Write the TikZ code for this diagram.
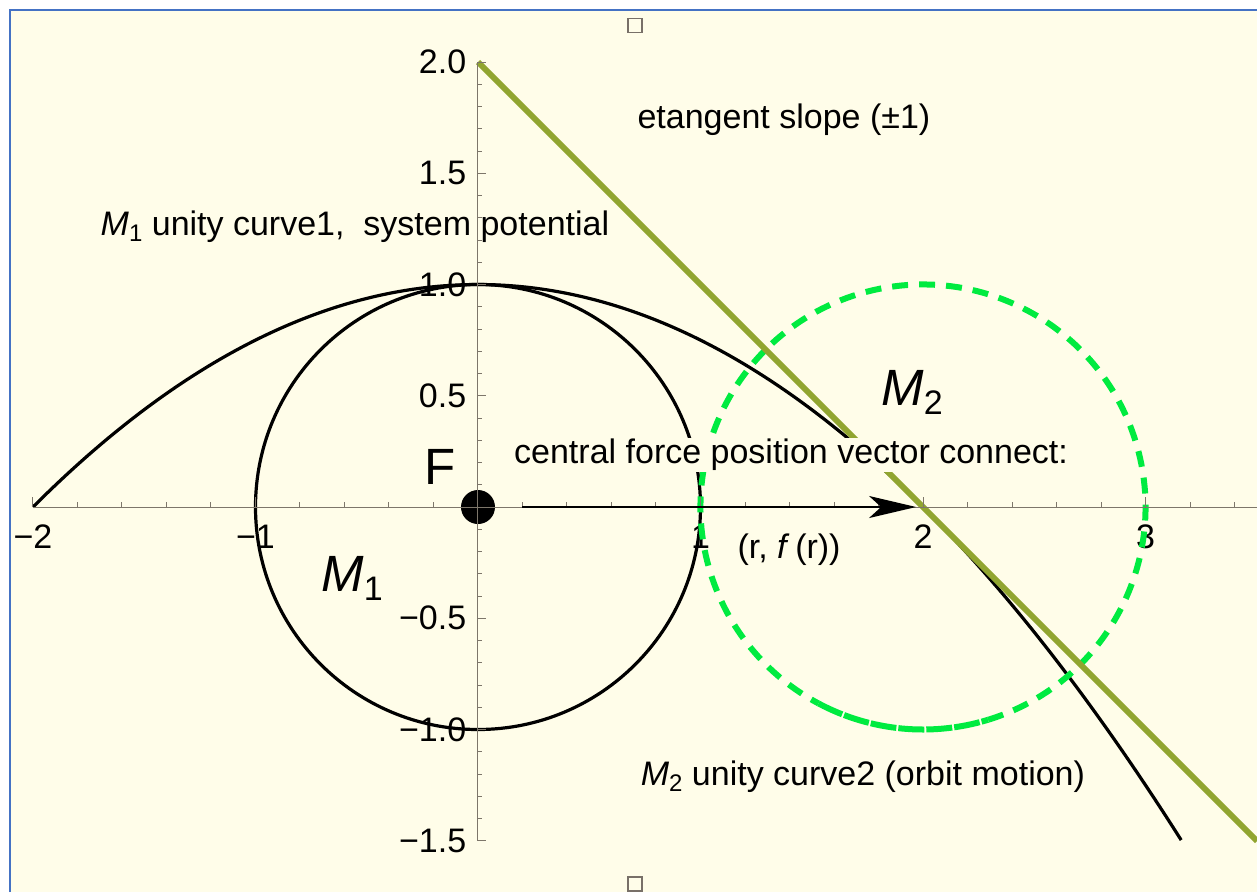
\documentclass[tikz,border=0pt]{standalone}
\usepackage{fontspec}
\setmainfont{Liberation Sans}
\usetikzlibrary{arrows.meta}
\definecolor{bgyellow}{RGB}{255,253,233}
\definecolor{frameblue}{RGB}{68,114,196}
\definecolor{axisgray}{RGB}{125,118,106}
\definecolor{olivegreen}{RGB}{145,165,48}
\definecolor{brightgreen}{RGB}{0,235,64}
\definecolor{handlegray}{RGB}{120,112,104}
\newcommand\Msub[3]{\textit{M}\raisebox{-#3}{\fontsize{#2}{#2}\selectfont #1}}
\begin{document}
\begin{tikzpicture}[x=222.5pt,y=222.5pt,
  txt/.style={font=\fontsize{34}{40}\selectfont, inner sep=1pt},
  bigtxt/.style={font=\fontsize{51}{58}\selectfont, inner sep=1pt},
  ticklab/.style={font=\fontsize{34}{40}\selectfont, inner sep=0pt},
  blackcurve/.style={line width=3.2pt, black},
  axisline/.style={axisgray, line width=1pt},
  greendash/.style={brightgreen, line width=6pt},
  handle/.style={handlegray, line width=1.2pt}
]
\useasboundingbox (-2.1483,-1.7303) rectangle (3.5011,2.2787);
\fill[white] (-2.1483,-1.7303) rectangle (3.5011,2.2787);
\fill[bgyellow] (-2.1034,-1.7303) rectangle (3.5011,2.2337);
\draw[frameblue, line width=2.6pt] (-2.1034,-1.7303) -- (-2.1034,2.2337) -- (3.5011,2.2337);
% resize handles
\draw[handle] (0.6741,2.1325) rectangle (0.7371,2.1955);
\draw[handle] (0.6741,-1.7259) rectangle (0.7371,-1.6629);
% tick labels
\foreach \k/\t in {-2/{−2},-1/{−1},1/1,2/2,3/3}
  \node[ticklab] (xl\k) at (\k,-0.135) {\t};
\foreach \v/\t in {2/{2.0},1.5/{1.5},1/{1.0},0.5/{0.5},-0.5/{−0.5},-1/{−1.0},-1.5/{−1.5}}
  \node[ticklab, anchor=east] (yl\v) at (-0.052,\v) {\t};
% curves
\draw[blackcurve] plot[domain=-2:3.1623, samples=140, smooth] (\x,{1-\x*\x/4});
\draw[blackcurve] (0,0) circle (1);
\draw[greendash, dash pattern=on 16pt off 11pt] (2,0) ++(287:1) arc[start angle=287, end angle=602, radius=1];
\draw[greendash, dash pattern=on 26pt off 2pt] (2,0) ++(242:1) arc[start angle=242, end angle=287, radius=1];
\draw[olivegreen, line width=6pt] (0,2) -- (3.5011,-1.5011);
% labels
\node[txt] (tangent) at (1.375,1.739) {etangent slope (±1)};
\node[txt] (m1lab) at (-0.553,1.258) {\Msub{1}{24pt}{6pt} unity curve1,\ \ system potential};
\node[txt, fill=bgyellow] (central) at (1.407,0.234) {central force position vector connect:};
\node[bigtxt] (M2) at (1.951,0.517) {\Msub{2}{34pt}{9pt}};
\node[bigtxt] (M1) at (-0.566,-0.319) {\Msub{1}{34pt}{9pt}};
\node[bigtxt] (Flab) at (-0.171,0.180) {F};
\node[txt] (rfr) at (1.398,-0.193) {(r, \textit{f}\,(r))};
\node[txt] (m2lab) at (1.730,-1.213) {\Msub{2}{24pt}{6pt} unity curve2 (orbit motion)};
% focus point
\node[circle, fill=black, minimum size=34pt, inner sep=0pt] (Fdot) at (0,0) {};
% axes
\draw[axisline] (-2,0) -- (3.5011,0);
\draw[axisline] (0,-1.5) -- (0,2);
\foreach \i in {-10,...,17} \draw[axisline] (\i/5,0) -- ++(0,5pt);
\foreach \i in {-2,...,3} \draw[axisline] (\i,0) -- ++(0,10pt);
\foreach \i in {-15,...,20} \draw[axisline] (0,\i/10) -- ++(4.5pt,0);
\foreach \i in {-3,...,4} \draw[axisline] (0,\i/2) -- ++(8pt,0);
% arrow
\coordinate (arrstart) at (0.2,0);
\coordinate (arrend) at (1.969,0);
\draw[black, line width=2.2pt, -{Stealth[length=47pt, width=22pt, inset=12pt]}] (arrstart) -- (arrend);
\end{tikzpicture}
\end{document}
